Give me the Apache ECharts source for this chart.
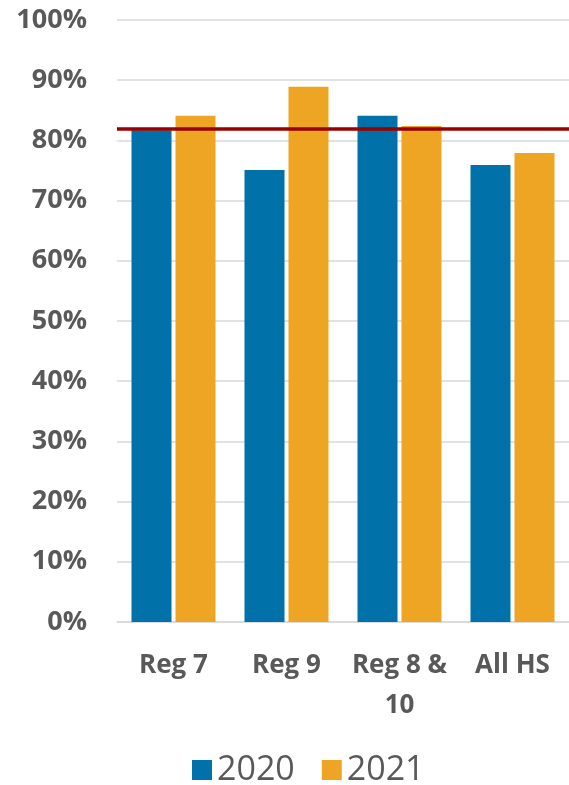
<!DOCTYPE html>
<html><head><meta charset="utf-8">
<script src="https://cdn.jsdelivr.net/npm/echarts@6/dist/echarts.min.js"></script>
<style>html,body{margin:0;padding:0;background:#fff}#c{width:569px;height:785px}</style>
</head><body><div id="c"></div>
<script>
var categories = ['Reg 7', 'Reg 9', 'Reg 8 &\n10', 'All HS'];
var series2020 = [81.7, 75.1, 84.1, 75.9];
var series2021 = [84.1, 88.9, 82.4, 77.9];
var targetValue = 82;
var seriesNames = ['2020', '2021'];

var font = '"Open Sans", "Liberation Sans", sans-serif';
var chart = echarts.init(document.getElementById('c'), null, {renderer: 'canvas'});
chart.setOption({
  animation: false,
  textStyle: {fontFamily: font},
  grid: {left: 117, right: 0, top: 20, bottom: 163},
  legend: {
    data: seriesNames, left: 187, top: 748, itemWidth: 20, itemHeight: 20, itemGap: 27,
    icon: 'rect',
    textStyle: {fontSize: 34, color: '#595959', fontFamily: font, padding: [0, 0, 0, 0]}
  },
  xAxis: {
    type: 'category', data: categories,
    axisLine: {lineStyle: {color: '#d9d9d9', width: 1.5}},
    axisTick: {show: false},
    axisLabel: {fontSize: 26, fontWeight: 'bold', color: '#595959', margin: 24, lineHeight: 40, interval: 0}
  },
  yAxis: {
    type: 'value', min: 0, max: 100, interval: 10,
    axisLine: {show: false}, axisTick: {show: false},
    splitLine: {lineStyle: {color: '#d9d9d9', width: 1.5}},
    axisLabel: {formatter: '{value}%', fontSize: 27, fontWeight: 'bold', color: '#595959', margin: 30}
  },
  series: [
    {name: seriesNames[0], type: 'bar', data: series2020, barWidth: 40, barGap: '10%',
     itemStyle: {color: '#0071A9'},
     markLine: {silent: true, symbol: ['none', 'none'], label: {show: false},
       lineStyle: {color: '#990000', width: 3.5, type: 'solid'},
       data: [{yAxis: targetValue}]}},
    {name: seriesNames[1], type: 'bar', data: series2021, barWidth: 40,
     itemStyle: {color: '#EDA523'}}
  ]
});
</script></body></html>
